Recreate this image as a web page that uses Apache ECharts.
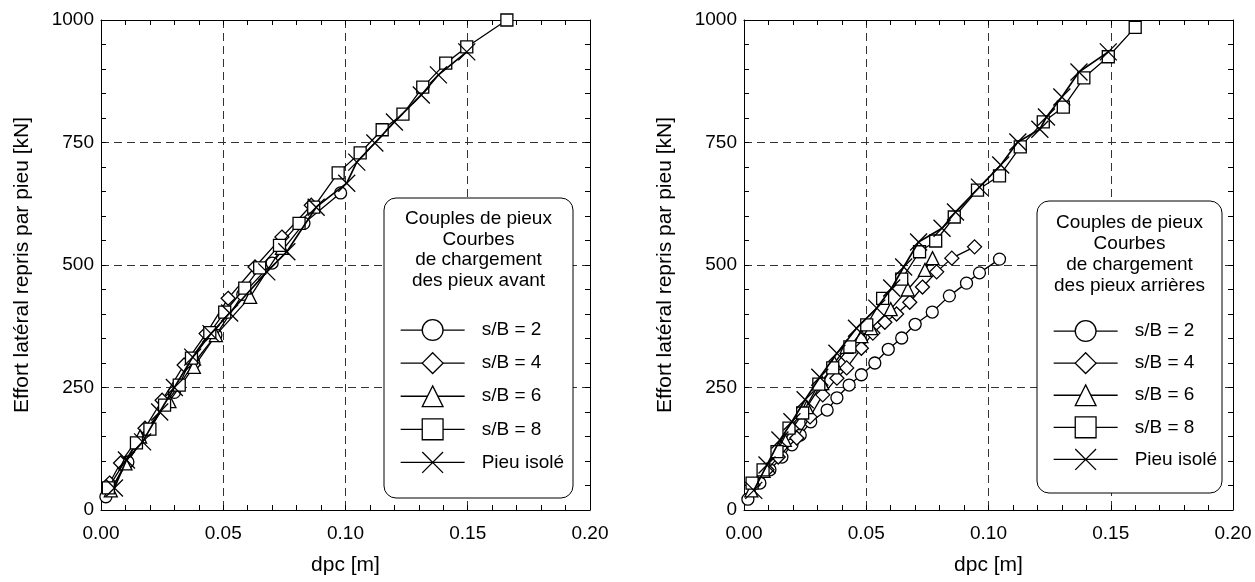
<!DOCTYPE html>
<html><head><meta charset="utf-8">
<script src="https://cdn.jsdelivr.net/npm/echarts@6/dist/echarts.min.js"></script>
<style>html,body{margin:0;padding:0;background:#fff}#c{width:1255px;height:582px}</style>
</head><body><div id="c"></div>
<script>
// ---------- DATA ----------
const seriesNames = ['s/B = 2', 's/B = 4', 's/B = 6', 's/B = 8', 'Pieu isolé'];
const xTicks = [0, 0.05, 0.10, 0.15, 0.20];
const yTicks = [0, 250, 500, 750, 1000];
const xAxisTitle = 'dpc [m]';
const yAxisTitle = 'Effort latéral repris par pieu [kN]';
const legendTitleFront = ['Couples de pieux', 'Courbes', 'de chargement', 'des pieux avant'];
const legendTitleRear = ['Couples de pieux', 'Courbes', 'de chargement', 'des pieux arrières'];

// Left chart: front piles
const front_sB2 = [[0.002,27],[0.011,98],[0.019,163],[0.030,240],[0.038,300],[0.047,357],[0.058,440],[0.070,504],[0.083,585],[0.098,647]];
const front_sB4 = [[0.0035,55],[0.008,96],[0.018,167],[0.025,224],[0.034,296],[0.043,360],[0.052,432],[0.063,496],[0.074,557],[0.086,622]];
const front_sB6 = [[0.004,40],[0.010,95],[0.016,150],[0.028,222],[0.038,292],[0.047,357],[0.061,435],[0.074,535]];
const front_sB8 = [[0.003,45],[0.0145,137],[0.020,165],[0.026,214],[0.032,255],[0.037,310],[0.0445,362],[0.0506,404],[0.0588,453],[0.0649,494],[0.073,540],[0.081,585],[0.087,618],[0.097,688],[0.106,729],[0.115,776],[0.1235,808],[0.1316,863],[0.141,912],[0.1496,945],[0.166,1000]];
const front_iso = [[0.0055,45],[0.0104,102],[0.017,139],[0.024,200],[0.030,250],[0.0375,312],[0.045,360],[0.0526,402],[0.0678,486],[0.076,527],[0.088,618],[0.1005,667],[0.1046,710],[0.112,749],[0.120,792],[0.131,847],[0.138,888],[0.1496,935]];

// Right chart: rear piles
const rear_sB2 = [[0.0016,22],[0.0065,55],[0.0106,82],[0.0155,108],[0.0196,133],[0.023,153],[0.0273,180],[0.034,204],[0.038,229],[0.043,255],[0.048,276],[0.0535,300],[0.059,328],[0.0645,351],[0.070,379],[0.077,404],[0.084,437],[0.091,463],[0.0963,484],[0.1045,512]];
const rear_sB4 = [[0.0037,51],[0.0094,82],[0.014,108],[0.0216,147],[0.027,190],[0.0322,235],[0.038,269],[0.042,290],[0.048,330],[0.0527,361],[0.0576,383],[0.0624,400],[0.0678,424],[0.073,455],[0.0788,486],[0.085,514],[0.0943,537]];
const rear_sB6 = [[0.003,40],[0.008,80],[0.0167,143],[0.0257,210],[0.032,259],[0.037,300],[0.042,333],[0.048,355],[0.052,371],[0.060,410],[0.067,450],[0.074,490],[0.0771,514]];
const rear_sB8 = [[0.0033,55],[0.0078,82],[0.0135,119],[0.0184,167],[0.024,198],[0.0306,257],[0.0363,290],[0.0433,333],[0.0502,378],[0.0567,432],[0.0645,471],[0.0718,527],[0.0784,549],[0.086,598],[0.0955,653],[0.1045,682],[0.113,741],[0.1224,792],[0.1306,822],[0.139,882],[0.149,925],[0.160,985]];
const rear_iso = [[0.004,40],[0.0094,92],[0.0147,143],[0.0196,180],[0.025,225],[0.031,271],[0.038,320],[0.046,371],[0.0543,412],[0.0604,453],[0.0653,496],[0.0714,547],[0.081,575],[0.0865,608],[0.0963,659],[0.105,704],[0.112,751],[0.121,777],[0.1237,802],[0.130,843],[0.137,894],[0.149,935]];

// ---------- STYLE ----------
const FONT = 'Liberation Sans, Arial, Helvetica, sans-serif';
const symbols = ['circle', 'diamond', 'triangle', 'rect', 'path://M0,0L10,10M10,0L0,10'];
const symbolSizes = [12, 14, 13, 12, 17];
const lineWidths = [1.3, 1.3, 1.3, 1.3, 1.7];

const grids = [
  {left: 101, top: 20, width: 489, height: 490},
  {left: 744, top: 20, width: 489, height: 490}
];

function xAxes(gi) {
  const base = {
    gridIndex: gi, type: 'value', min: xTicks[0], max: xTicks[xTicks.length-1], interval: 0.05,
    axisLine: {show: true, onZero: false, lineStyle: {color: '#000', width: 1}},
    axisTick: {show: true, inside: true, length: 5, lineStyle: {color: '#000'}},
    minorTick: {show: true, splitNumber: 5, length: 5, lineStyle: {color: '#000'}},
  };
  return [
    Object.assign({}, base, {
      position: 'bottom',
      axisLabel: {fontSize: 19, color: '#000', fontFamily: FONT, margin: 14, formatter: v => v.toFixed(2)},
      splitLine: {show: true, lineStyle: {color: '#333', type: [8, 5], width: 1}},
      name: xAxisTitle, nameLocation: 'middle', nameGap: 45,
      nameTextStyle: {fontSize: 21, color: '#000', fontFamily: FONT}
    }),
    Object.assign({}, base, {position: 'top', axisLabel: {show: false}, splitLine: {show: false}})
  ];
}
function yAxes(gi) {
  const base = {
    gridIndex: gi, type: 'value', min: yTicks[0], max: yTicks[yTicks.length-1], interval: 250,
    axisLine: {show: true, onZero: false, lineStyle: {color: '#000', width: 1}},
    axisTick: {show: true, inside: true, length: 5, lineStyle: {color: '#000'}},
    minorTick: {show: true, splitNumber: 5, length: 5, lineStyle: {color: '#000'}},
  };
  return [
    Object.assign({}, base, {
      position: 'left',
      axisLabel: {fontSize: 19, color: '#000', fontFamily: FONT, margin: 7, formatter: v => String(v)},
      splitLine: {show: true, lineStyle: {color: '#333', type: [8, 5], width: 1}},
      name: yAxisTitle, nameLocation: 'middle', nameGap: 68,
      nameTextStyle: {fontSize: 21, color: '#000', fontFamily: FONT}
    }),
    Object.assign({}, base, {position: 'right', axisLabel: {show: false}, splitLine: {show: false}})
  ];
}

function mkSeries(dataArr, gi) {
  return dataArr.map((d, i) => ({
    type: 'line', name: seriesNames[i], data: d,
    xAxisIndex: gi * 2, yAxisIndex: gi * 2,
    symbol: symbols[i], symbolSize: symbolSizes[i], showAllSymbol: true,
    itemStyle: {color: '#fff', borderColor: '#000', borderWidth: 1.3},
    lineStyle: {color: '#000', width: lineWidths[i], opacity: 1},
    emphasis: {disabled: true}, z: 3 + i
  }));
}

function legendBox(x0, y0, w, h, titles, titleYs) {
  const els = [{
    type: 'rect', shape: {x: x0, y: y0, width: w, height: h, r: 12},
    style: {fill: '#fff', stroke: '#000', lineWidth: 1}, z: 10
  }];
  titles.forEach((t, i) => els.push({
    type: 'text', x: x0 + w / 2, y: titleYs[i], z: 11,
    style: {text: t, fontSize: 19, fontFamily: FONT, fill: '#000', align: 'center', verticalAlign: 'middle'}
  }));
  return els;
}

function mkLegend(left, top, gap) {
  return {
    data: seriesNames, selectedMode: false, orient: 'vertical',
    left: left, top: top, itemWidth: 64, itemHeight: 26, itemGap: gap, z: 12,
    lineStyle: {width: 1.3, color: '#000'},
    itemStyle: {borderWidth: 1.3, borderColor: '#000', color: '#fff'},
    textStyle: {fontSize: 19, fontFamily: FONT, color: '#000', padding: [0, 0, 0, 12]}
  };
}

const chart = echarts.init(document.getElementById('c'), null, {renderer: 'canvas'});
chart.setOption({
  animation: false,
  backgroundColor: '#fff',
  textStyle: {fontFamily: FONT},
  grid: grids,
  xAxis: [...xAxes(0), ...xAxes(1)],
  yAxis: [...yAxes(0), ...yAxes(1)],
  legend: [mkLegend(395, 314, 11), mkLegend(1048, 315, 10)],
  graphic: [
    ...legendBox(384, 198, 189, 300, legendTitleFront, [219, 240, 260, 281]),
    ...legendBox(1037, 201, 185, 292, legendTitleRear, [223, 244, 265, 286])
  ],
  series: [
    ...mkSeries([front_sB2, front_sB4, front_sB6, front_sB8, front_iso], 0),
    ...mkSeries([rear_sB2, rear_sB4, rear_sB6, rear_sB8, rear_iso], 1)
  ]
});
</script></body></html>
